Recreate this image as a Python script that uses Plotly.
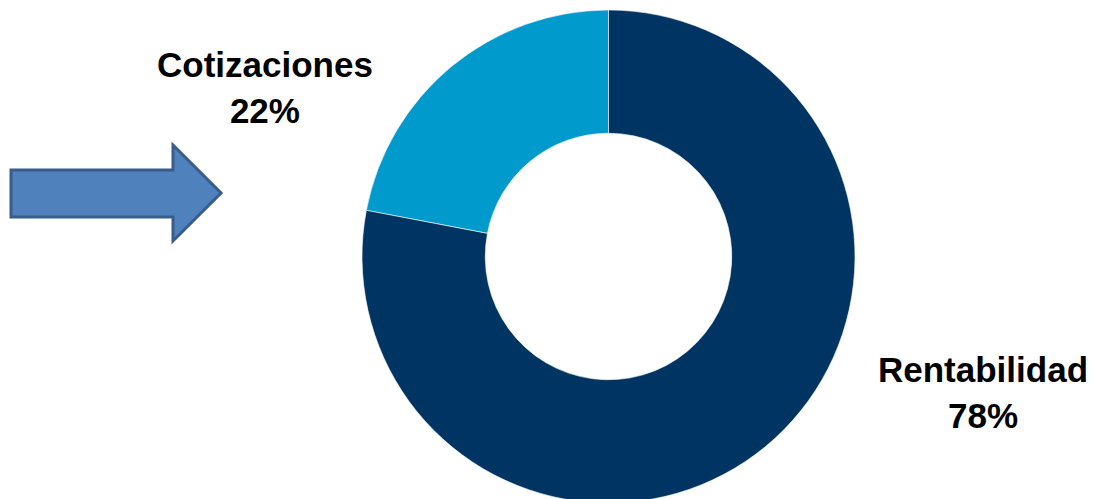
import plotly.graph_objects as go

W, H = 1097, 499
OFF = 8  # page body margin offset

categories = ["Cotizaciones", "Rentabilidad"]
values = [22, 78]
colors = ["#009ACD", "#003462"]

# label anchor positions (screen pixels) for each category
label_pos = {"Cotizaciones": (265, 88), "Rentabilidad": (983, 392)}


def fx(px):
    return (px - OFF) / W


def fy(py):
    return 1 - (py - OFF) / H


fig = go.Figure()

total = sum(values)
# first slice should end at 12 o'clock, sweeping clockwise from the upper left
rot = 360 - 360 * values[0] / total

# donut geometry (screen pixels)
cx, cy, r = 608.5, 256.5, 246.5
fig.add_trace(go.Pie(
    labels=categories,
    values=values,
    hole=0.5,
    sort=False,
    direction="clockwise",
    rotation=rot,
    marker=dict(colors=colors, line=dict(color="white", width=0.6)),
    textinfo="none",
    hoverinfo="label+percent",
    showlegend=False,
    domain=dict(x=[fx(cx - r), fx(cx + r)], y=[fy(cy + r), fy(cy - r)]),
))

for cat, v in zip(categories, values):
    px, py = label_pos[cat]
    fig.add_annotation(
        x=fx(px), y=fy(py), xref="paper", yref="paper",
        text=f"<b>{cat}<br>{round(100 * v / total)}%</b>",
        showarrow=False, xanchor="center", yanchor="middle",
        font=dict(family="Liberation Sans, Arial, sans-serif", size=35, color="#000000"),
        align="center",
    )

# decorative block arrow on the left
pts = [(11, 170), (173, 170), (173, 145), (221, 193), (173, 241), (173, 217), (11, 217)]
path = "M " + " L ".join(f"{fx(x):.5f},{fy(y):.5f}" for x, y in pts) + " Z"
fig.add_shape(type="path", xref="paper", yref="paper", path=path,
              fillcolor="#4F81BD", line=dict(color="#385D8A", width=3))

fig.update_layout(
    width=W, height=H,
    margin=dict(l=0, r=0, t=0, b=0),
    paper_bgcolor="white", plot_bgcolor="white",
)

fig.write_html("out.html")
